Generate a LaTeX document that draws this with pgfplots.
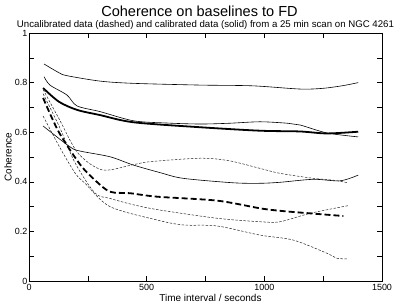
\documentclass[border=0pt]{standalone}
\usepackage{pgfplots}
\pgfplotsset{compat=1.18}
\usepackage{fontspec}
\setmainfont{Liberation Sans}
\begin{document}
\begin{tikzpicture}
\begin{axis}[
  scale only axis, width=353bp, height=248bp,
  xmin=0, xmax=1500, ymin=0, ymax=1,
  xtick={0,500,1000,1500}, ytick={0,0.2,0.4,0.6,0.8,1},
  minor xtick={250,750,1250}, minor ytick={0.1,0.3,0.5,0.7,0.9},
  tick align=inside, major tick length=5bp, minor tick length=5bp,
  tick style={black, line width=0.5bp},
  axis line style={line width=0.8bp},
  /pgf/number format/assume math mode=true,
  /pgf/number format/set thousands separator={},
  ticklabel style={font=\fontsize{9}{10}\selectfont},
  yticklabel style={/pgf/number format/fixed, inner sep=1.5bp},
  xlabel={Time interval / seconds}, ylabel={Coherence},
  label style={font=\fontsize{10}{11}\selectfont},
  xlabel style={at={(axis description cs:0.5,0)}, anchor=base, yshift=-20bp, xshift=5bp},
  ylabel style={at={([xshift=-21bp]axis description cs:0,0.5)}, anchor=center},
  clip=false,
]
\node[anchor=base, font=\fontsize{14.6}{16}\selectfont] at ([xshift=-6bp,yshift=16.5bp]rel axis cs:0.5,1) {Coherence on baselines to FD};
\node[anchor=base, font=\fontsize{9.7}{11}\selectfont, inner sep=1bp] at ([yshift=5bp]rel axis cs:0.5,1) {Uncalibrated data (dashed) and calibrated data (solid) from a 25 min scan on NGC 4261};
% calibrated (solid)
\addplot[black, line width=0.6bp, smooth] coordinates {(64,0.875)(127,0.84)(161,0.828)(302,0.806)(444,0.797)(727,0.79)(950,0.787)(1152,0.774)(1250,0.777)(1336,0.788)(1399,0.80)};
\addplot[black, line width=0.6bp, smooth] coordinates {(64,0.824)(89,0.79)(161,0.75)(204,0.706)(302,0.683)(444,0.646)(585,0.637)(727,0.633)(850,0.636)(982,0.642)(1100,0.636)(1152,0.629)(1266,0.597)(1399,0.581)};
\addplot[black, line width=0.6bp, smooth] coordinates {(60,0.625)(174,0.541)(217,0.524)(344,0.501)(442,0.468)(557,0.437)(655,0.414)(868,0.396)(982,0.394)(1067,0.398)(1208,0.41)(1322,0.404)(1399,0.427)};
\addplot[black, line width=1.8bp, smooth] coordinates {(60,0.778)(127,0.723)(204,0.69)(302,0.669)(444,0.64)(727,0.62)(982,0.606)(1150,0.603)(1266,0.595)(1399,0.602)};
% uncalibrated (dashed)
\addplot[black!85, line width=0.5bp, dash pattern=on 2.5bp off 1.5bp, smooth] coordinates {(60,0.772)(130,0.65)(208,0.516)(311,0.448)(438,0.468)(514,0.481)(727,0.495)(850,0.485)(982,0.454)(1067,0.434)(1208,0.414)(1289,0.407)(1357,0.396)};
\addplot[black!85, line width=0.5bp, dash pattern=on 2.5bp off 1.5bp, smooth] coordinates {(60,0.755)(130,0.62)(196,0.476)(280,0.355)(344,0.333)(450,0.306)(557,0.286)(799,0.253)(982,0.239)(1067,0.239)(1195,0.273)(1357,0.304)};
\addplot[black!85, line width=0.5bp, dash pattern=on 2.5bp off 1.5bp, smooth] coordinates {(60,0.665)(130,0.54)(196,0.435)(238,0.394)(344,0.30)(544,0.246)(655,0.226)(799,0.222)(982,0.185)(1123,0.165)(1266,0.112)(1307,0.092)(1357,0.089)};
\addplot[black, line width=1.8bp, dash pattern=on 6bp off 3bp, smooth] coordinates {(60,0.738)(127,0.60)(217,0.47)(280,0.407)(344,0.36)(429,0.354)(544,0.34)(799,0.324)(982,0.293)(1067,0.283)(1165,0.275)(1336,0.262)};
\end{axis}
\pgfresetboundingbox
\path ([shift={(-29bp,-23bp)}]current axis.south west) rectangle ([shift={(17bp,33bp)}]current axis.north east);
\end{tikzpicture}
\end{document}
